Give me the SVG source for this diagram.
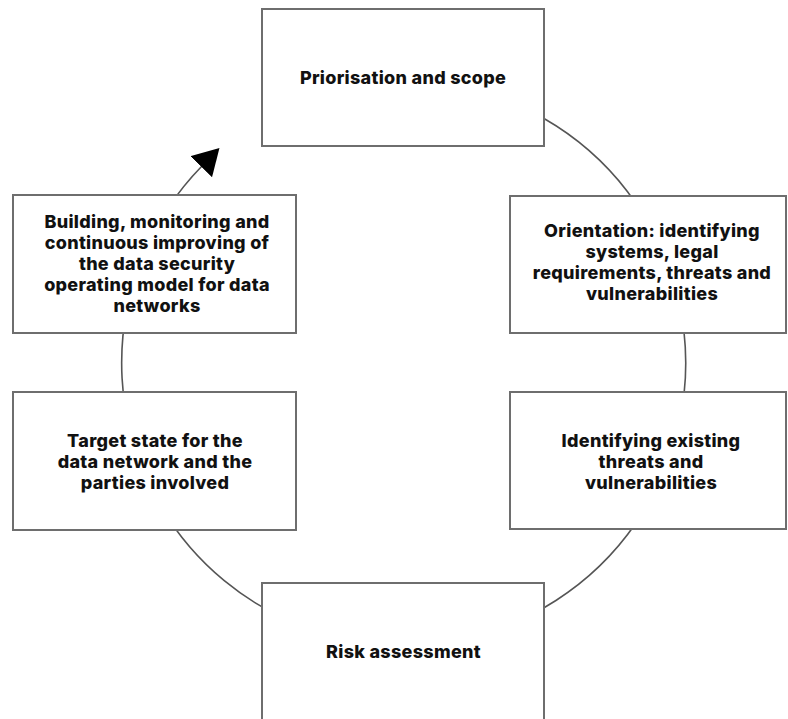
<svg xmlns="http://www.w3.org/2000/svg" width="788" height="719" viewBox="0 0 788 719">
<style>
.box{fill:#ffffff;stroke:#6e6e6e;stroke-width:2}
.lbl{font-family:Inter,"Liberation Sans",sans-serif;font-weight:800;font-size:18px;letter-spacing:0.3px;fill:#111111;text-anchor:middle}
.cyc{fill:none;stroke:#555555;stroke-width:1.6}
</style>
<defs>
<marker id="ah" markerUnits="userSpaceOnUse" markerWidth="30" markerHeight="32" refX="1" refY="15" orient="auto" viewBox="0 0 30 32">
<path d="M0,0 L26,15 L0,30 z" fill="#000000"/>
</marker>
</defs>
<rect width="788" height="719" fill="#ffffff"/>
<g id="connectors">
<path class="cyc" d="M544,118.5 A282,282 0 1 1 202,166" marker-end="url(#ah)"/>
</g>
<g id="node-priorisation">
<rect class="box" x="262" y="9" width="282" height="137"/>
<text class="lbl" x="403" y="84">Priorisation and scope</text>
</g>
<g id="node-orientation">
<rect class="box" x="510" y="196" width="276" height="137"/>
<text class="lbl" x="652" y="237">Orientation: identifying<tspan x="652" dy="21">systems, legal</tspan><tspan x="652" dy="21">requirements, threats and</tspan><tspan x="652" dy="21">vulnerabilities</tspan></text>
</g>
<g id="node-identifying">
<rect class="box" x="510" y="392" width="276" height="137"/>
<text class="lbl" x="651" y="447">Identifying existing<tspan x="651" dy="21">threats and</tspan><tspan x="651" dy="21">vulnerabilities</tspan></text>
</g>
<g id="node-risk">
<rect class="box" x="262" y="583" width="282" height="140"/>
<text class="lbl" x="403.5" y="658">Risk assessment</text>
</g>
<g id="node-target">
<rect class="box" x="13" y="392" width="283" height="138"/>
<text class="lbl" x="155" y="447">Target state for the<tspan x="155" dy="21">data network and the</tspan><tspan x="155" dy="21">parties involved</tspan></text>
</g>
<g id="node-building">
<rect class="box" x="13" y="195" width="283" height="138"/>
<text class="lbl" x="157" y="228">Building, monitoring and<tspan x="157" dy="21">continuous improving of</tspan><tspan x="157" dy="21">the data security</tspan><tspan x="157" dy="21">operating model for data</tspan><tspan x="157" dy="21">networks</tspan></text>
</g>
</svg>
